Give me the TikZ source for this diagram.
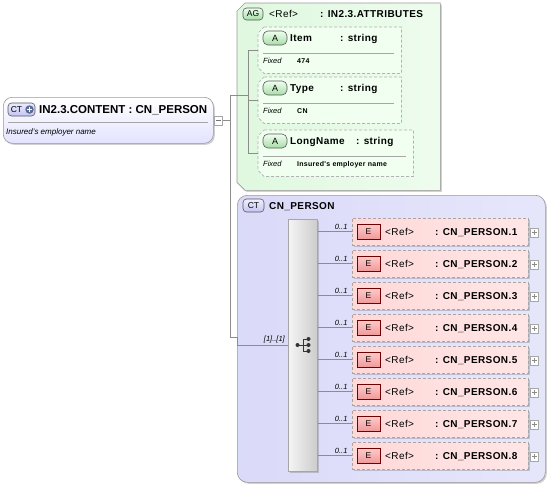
\documentclass[tikz,border=0pt]{standalone}
\usepackage{fontspec}
\setmainfont{Liberation Sans}
\newfontfamily\lblfont[LetterSpace=4]{Liberation Sans}
\usetikzlibrary{
    positioning,
    shadows,
    calc
}
\definecolor{linegray}{HTML}{8C8C8C}
\definecolor{agfill}{HTML}{DFF8DF}
\definecolor{agfillb}{HTML}{EEFCEE}
\definecolor{ctfill}{HTML}{DADAF9}
\definecolor{ctfillb}{HTML}{E6E6FB}
\definecolor{badgegreen}{HTML}{A8DCA8}
\definecolor{badgeblue}{HTML}{C4C4F2}
\definecolor{badgered}{HTML}{F09A9A}
\definecolor{elemfill}{HTML}{FFD8D8}
\definecolor{elemfillb}{HTML}{FFE6E6}
\definecolor{plusblue}{HTML}{5C6B96}

\begin{document}
\begin{tikzpicture}[x=1pt, y=-1pt,
    conn/.style={draw=linegray, line width=0.6pt},
    shadowed/.style={drop shadow={shadow xshift=1.5pt, shadow yshift=-1.5pt, opacity=0.3, fill=black!60}},
    frame/.style={inner sep=0pt, anchor=north west},
    groupline/.style={draw=black!40, line width=0.6pt, shadowed},
    attrline/.style={draw=black!30, dash pattern=on 3pt off 2pt, line width=0.7pt, fill=white!94!green},
    elembox/.style={draw=black!35, dash pattern=on 3pt off 2pt, line width=0.7pt, shadowed,
        left color=elemfill, right color=elemfillb, minimum width=176, minimum height=27, inner sep=0pt},
    badge/.style={draw=black!65, line width=0.6pt, rounded corners=3.5pt, inner sep=0pt,
        font=\fontsize{8.5}{9}\selectfont},
    ebadge/.style={draw=red!45!black, line width=0.6pt, inner sep=0pt, top color=red!20, bottom color=badgered,
        minimum width=23, minimum height=15, font=\fontsize{8.5}{9}\selectfont},
    smallbox/.style={draw=black!35, fill=white, inner sep=0pt, minimum width=8, minimum height=9},
    lbl/.style={anchor=base west, inner sep=0pt, font=\lblfont\fontsize{10}{12}\selectfont},
    lblbold/.style={lbl, font=\lblfont\bfseries\fontsize{10}{12}\selectfont},
    fixedlbl/.style={anchor=base west, inner sep=0pt, font=\itshape\fontsize{7.5}{9}\selectfont},
    fixedval/.style={anchor=base west, inner sep=0pt, font=\lblfont\bfseries\fontsize{7}{8}\selectfont},
    card/.style={inner sep=0pt, font=\itshape\fontsize{7.5}{9}\selectfont}
]
\useasboundingbox (0,0) rectangle (547,485);

% root type
\node[draw=black!40, line width=0.6pt, rounded corners=9pt, top color=white, bottom color=blue!11,
    minimum width=210, minimum height=46, anchor=north west, shadowed] (root) at (3,97) {};
\node[badge, top color=blue!8, bottom color=badgeblue, minimum width=27, minimum height=13] (rootbadge) at (21.5,109.5) {};
\node[inner sep=0pt, font=\fontsize{8.5}{9}\selectfont] (rootct) at (16.5,109.5) {CT};
\node[circle, fill=plusblue, inner sep=0pt, minimum size=8.5] (rootplus) at (29.5,109.5) {};
\draw[white, line width=1.2pt]
(rootplus.center) +(-2.5,0) -- +(2.5,0)
(rootplus.center) +(0,-2.5) -- +(0,2.5);
\node[anchor=base west, inner sep=0pt, font=\bfseries\fontsize{11.5}{13}\selectfont] (roottitle) at (39,113.6) {IN2.3.CONTENT : CN\_PERSON};
\draw[black!35] (8,122) -- (208,122);
\node[fixedlbl, font=\itshape\fontsize{8}{9}\selectfont] (rootdoc) at (6,134.3) {Insured's employer name};
\node[smallbox] (minus) at (218.5,120.5) {};
\draw[black!55] (minus.center) +(-2.5,0) -- +(2.5,0);

% attribute group
\node[frame, minimum width=203, minimum height=187] (attrgroup) at (237,3) {};
\path[groupline, left color=agfill, right color=agfillb]
([xshift=8pt]attrgroup.north west) -- (attrgroup.north east) -- (attrgroup.south east)
-- ([xshift=8pt]attrgroup.south west) -- ([yshift=8pt]attrgroup.south west)
-- ([yshift=-8pt]attrgroup.north west) -- cycle;
\node[badge, top color=green!8, bottom color=badgegreen, minimum width=20, minimum height=12] (agbadge) at (253,14) {AG};
\node[lbl] (agref) at (269,17.6) {<Ref>};
\node[lblbold] (agname) at (320,17.6) {: IN2.3.ATTRIBUTES};

% complex type group
\node[groupline, rounded corners=10pt, left color=ctfill, right color=ctfillb,
    minimum width=308, minimum height=287, frame] (ctgroup) at (237,195) {};
\node[badge, top color=blue!6, bottom color=badgeblue, minimum width=21, minimum height=13] (ctbadge) at (253.5,205.5) {CT};
\node[lblbold] (cttitle) at (269,209) {CN\_PERSON};

% connectors from the root
\coordinate (jn) at (230,120.5);
\coordinate (agjoin) at (248,95);
\coordinate (ctin) at (237,337);
\draw[conn] (minus.east) -- (jn);
\draw[conn] (jn) |- (agjoin);

% attributes
\foreach \nm/\lbl/\ytop/\bw/\colx/\val in {
    item/Item/27/143/340/474,
    type/Type/77/143/340/CN,
    longname/LongName/130/155/356/Insured's employer name} {
    \node[frame, minimum width=\bw, minimum height=46] (\nm) at (258,\ytop) {};
    \path[attrline]
    ([xshift=6pt]\nm.north west) -- (\nm.north east) -- (\nm.south east)
    -- ([xshift=6pt]\nm.south west) -- ([yshift=6pt]\nm.south west)
    -- ([yshift=-6pt]\nm.north west) -- cycle;
    \draw[conn] (agjoin) |- (\nm.west);
    \node[badge, rounded corners=5pt, top color=green!6, bottom color=badgegreen,
        minimum width=24, minimum height=14, font=\fontsize{9}{10}\selectfont] (\nm-badge) at (275,{\ytop+11}) {A};
    \node[lblbold] (\nm-name) at (290,{\ytop+14.6}) {\lbl};
    \node[lblbold] (\nm-type) at (\colx,{\ytop+14.6}) {: string};
    \draw[black!35] (263,{\ytop+26}) -- ({258+\bw-7},{\ytop+26});
    \node[fixedlbl] (\nm-fixed) at (263,{\ytop+36.8}) {Fixed};
    \node[fixedval] (\nm-val) at (297,{\ytop+36.2}) {\val};
}

% sequence
\node[draw=black!35, line width=0.6pt, left color=black!4, right color=black!20, shadowed,
    minimum width=29, minimum height=252, frame] (seq) at (288,219) {};
\draw[conn] (jn) |- (ctin) |- (seq.west);
\node[card, anchor=south east] (seqcard) at ([xshift=-3pt,yshift=2pt]seq.west) {[1]..[1]};
\fill[black!80] (297.5,345) circle (2pt);
\draw[black!80, line width=1pt]
(297.5,345) -- (303,345)
(303,339) -- (303,351);
\foreach \dy in {-6,0,6} {
    \draw[black!80, line width=1pt] (303,{345+\dy}) -- (308,{345+\dy});
    \fill[black!80] (308.5,{345+\dy}) circle (2pt);
}

% elements
\foreach \i in {1,...,8} {
    \pgfmathsetmacro{\yt}{218+32*(\i-1)}
    \node[elembox] (elem\i) at (440,{\yt+13.5}) {};
    \draw[conn] (seq.east |- elem\i.west) -- (elem\i.west);
    \node[card, anchor=south east] (card\i) at ([xshift=-4pt,yshift=1.5pt]elem\i.west) {0..1};
    \node[ebadge] (ebadge\i) at (368.5,{\yt+13.5}) {E};
    \node[lbl] (ref\i) at (385,{\yt+17.1}) {<Ref>};
    \node[lblbold] (ename\i) at (435,{\yt+17.1}) {: CN\_PERSON.\i};
    \node[smallbox] (plus\i) at (534.5,{\yt+14.5}) {};
    \draw[black!45]
    (plus\i.center) +(-2.5,0) -- +(2.5,0)
    (plus\i.center) +(0,-2.5) -- +(0,2.5);
}
\end{tikzpicture}
\end{document}
